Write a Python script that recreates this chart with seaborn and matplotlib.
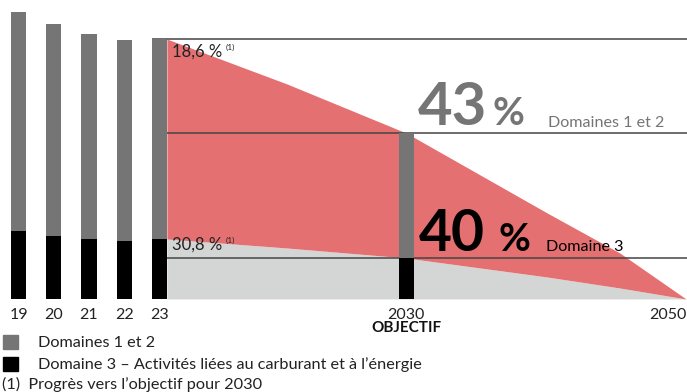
import numpy as np
import pandas as pd
import seaborn as sns
import matplotlib.pyplot as plt

# historical bars (index values)
bar_labels = ["19", "20", "21", "22", "23", "2030"]
bar_pos = [0, 1, 2, 3, 4, 11]
total_vals = [287, 275, 265, 259, 260, 166]     # Domaines 1 et 2 + Domaine 3
scope3_vals = [68, 63, 60, 58, 60, 41]          # Domaine 3

# trajectory towards 2050
traj_pos = [4.21, 7.62, 11, 15, 17.06, 18.94]
traj_upper = [260, 215, 166, 86, 46, 0]
traj_lower = [60, 51, 41, 22, 11, 0]

GRAY = "#747574"
RED = "#e57072"
LIGHT = "#d4d6d5"
LINE = "#444444"
TXT = "#222222"

sns.set_theme(style="white")
plt.rcParams["font.family"] = ["Lato", "DejaVu Sans"]

fig = plt.figure(figsize=(6.87, 3.92), dpi=100)
ax = fig.add_axes([0, 0, 1, 1])

# trajectory areas
ax.fill_between(traj_pos, 0, traj_lower, color=LIGHT, lw=0, zorder=1)
ax.fill_between(traj_pos, traj_lower, traj_upper, color=RED, lw=0, zorder=1)

# reference lines
ax.hlines(total_vals[4], 3.79, 18.965, color=LINE, lw=1.1, zorder=2)
ax.hlines(total_vals[5], 4.19, 18.965, color=LINE, lw=1.1, zorder=2)
ax.hlines(scope3_vals[5], 4.19, 18.965, color=LINE, lw=1.1, zorder=2)

df = pd.DataFrame({"pos": bar_pos, "total": total_vals, "scope3": scope3_vals})
sns.barplot(data=df, x="pos", y="total", native_scale=True, width=0.43,
            color=GRAY, saturation=1, linewidth=0, ax=ax, zorder=3)
sns.barplot(data=df, x="pos", y="scope3", native_scale=True, width=0.43,
            color="black", saturation=1, linewidth=0, ax=ax, zorder=3)
ax.set_xlim(-0.525, 18.965)
ax.set_ylim(-93, 299)
ax.axis("off")


def px(x, y):
    return x / 687, 1 - y / 392


# tick labels
for lab, p in zip(bar_labels, bar_pos):
    ax.text(p, -20, lab, ha="center", va="baseline", fontsize=11.5, color=TXT)
ax.text(18.965, -20, "2050", ha="right", va="baseline", fontsize=11.5, color=TXT)
ax.text(11, -33, "OBJECTIF", ha="center", va="baseline", fontsize=11,
        fontweight="bold", color="#111111")

# progress labels
fig.text(*px(172, 57), "18,6 %", fontsize=12, color=TXT, va="baseline")
fig.text(*px(226, 50), "(1)", fontsize=6, color=TXT, va="baseline")
fig.text(*px(172, 250), "30,8 %", fontsize=12, color=TXT, va="baseline")
fig.text(*px(226, 243), "(1)", fontsize=6, color=TXT, va="baseline")

# targets
fig.text(*px(418, 125), "43", fontsize=43, fontweight="bold", color=GRAY, va="baseline")
fig.text(*px(492, 125), "%", fontsize=28, fontweight="bold", color=GRAY, va="baseline")
fig.text(*px(548, 127), "Domaines 1 et 2", fontsize=11.6, color=GRAY, va="baseline")
fig.text(*px(419, 251), "40", fontsize=41, fontweight="bold", color="black", va="baseline")
fig.text(*px(498, 251), "%", fontsize=28, fontweight="bold", color="black", va="baseline")
fig.text(*px(546, 251), "Domaine 3", fontsize=11.6, color="black", va="baseline")

# legend
fig.patches.append(plt.Rectangle(px(3, 349), 15 / 687, 14 / 392, color=GRAY,
                                 transform=fig.transFigure, figure=fig))
fig.patches.append(plt.Rectangle(px(3, 371), 15 / 687, 14 / 392, color="black",
                                 transform=fig.transFigure, figure=fig))
fig.text(*px(38, 347), "Domaines 1 et 2", fontsize=11.7, color=TXT, va="baseline")
fig.text(*px(38, 369), "Domaine 3 – Activités liées au carburant et à l’énergie",
         fontsize=11.7, color=TXT, va="baseline")
fig.text(*px(2, 389), "(1)  Progrès vers l’objectif pour 2030", fontsize=11.7,
         color=TXT, va="baseline")

fig.savefig("out.png", dpi=100)
